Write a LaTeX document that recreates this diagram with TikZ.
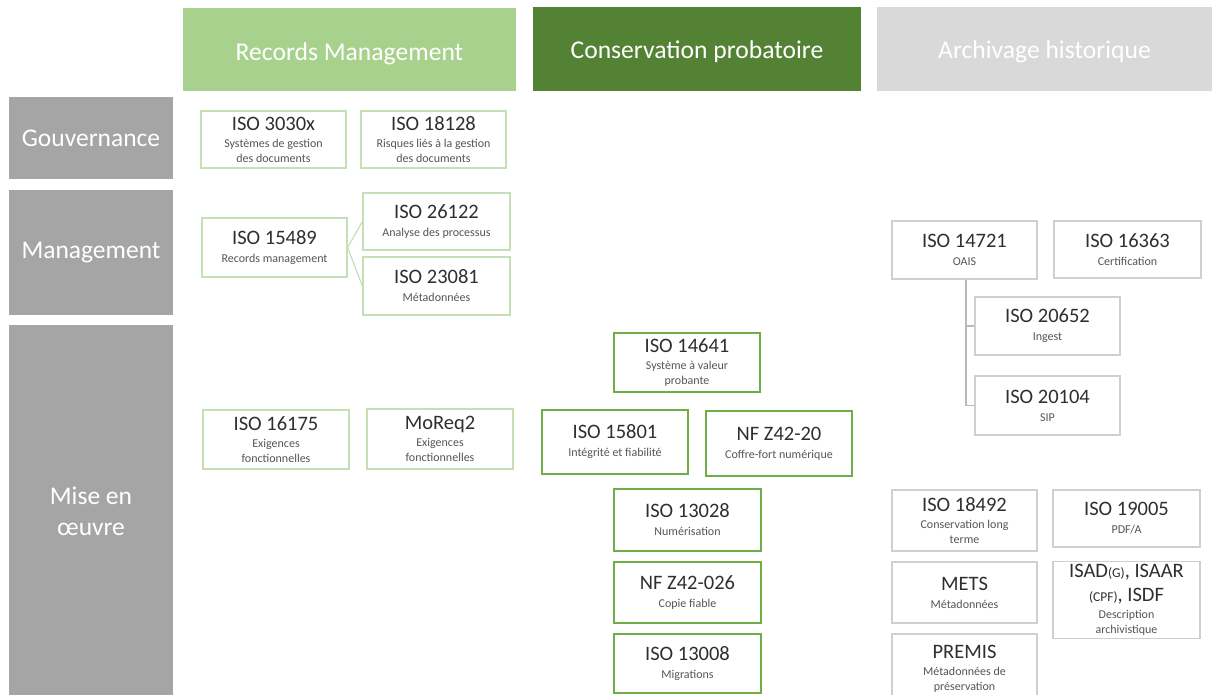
\documentclass[tikz,border=0pt]{standalone}
\usepackage{fontspec}
\setmainfont{Carlito}
\definecolor{rmgreen}{HTML}{A9D18E}
\definecolor{rmline}{HTML}{C5E0B4}
\definecolor{cpgreen}{HTML}{548235}
\definecolor{cpline}{HTML}{70AD47}
\definecolor{ahgray}{HTML}{D9D9D9}
\definecolor{ahline}{HTML}{D0CECE}
\definecolor{rowgray}{HTML}{A5A5A5}
\definecolor{titlecol}{HTML}{2F2F2F}
\definecolor{subcol}{HTML}{555555}
\newcommand\bxtitle[1]{{\fontsize{20.5}{22}\selectfont\color{titlecol}#1}}
\tikzset{
  hdr/.style={rectangle, inner sep=0pt, text=white, font=\fontsize{25.6}{28}\selectfont},
  hdrtext/.style={inner sep=0pt, text=white, font=\fontsize{25.6}{28}\selectfont},
  rowlbl/.style={rectangle, inner sep=0pt, fill=rowgray, text=white, align=center, font=\fontsize{25.5}{31}\selectfont},
  bx/.style={rectangle, inner sep=0pt, fill=white, align=center, text=subcol, font=\fontsize{12}{15}\selectfont},
  rmbox/.style={bx, draw=rmline, line width=1.2pt},
  cpbox/.style={bx, draw=cpline, line width=1.8pt},
  ahbox/.style={bx, draw=ahline, line width=1.2pt},
  rmlink/.style={draw=rmline, line width=1.2pt},
  ahlink/.style={draw=ahline!90!black, line width=1.2pt},
}
\begin{document}
\begin{tikzpicture}[x=1pt,y=-1pt]
\useasboundingbox (0,0) rectangle (1213,695);
\clip (0,0) rectangle (1213,695);
% headers
\node[hdr, fill=rmgreen, minimum width=333pt, minimum height=83pt] (hRM) at (349.5,49.5) {};
\node[hdr, fill=cpgreen, minimum width=328pt, minimum height=84pt] (hCP) at (697,49) {};
\node[hdr, fill=ahgray, minimum width=335pt, minimum height=84pt] (hAH) at (1044.5,49) {};
\node[hdrtext, yshift=-4pt] (tRM) at (hRM) {Records Management};
\node[hdrtext, yshift=-3pt] (tCP) at (hCP) {Conservation probatoire};
\node[hdrtext, yshift=-3pt] (tAH) at (hAH) {Archivage historique};
% rows
\node[rowlbl, minimum width=164pt, minimum height=82pt] (rG) at (91,138) {Gouvernance};
\node[rowlbl, minimum width=164pt, minimum height=125pt] (rM) at (91,252.5) {Management};
\node[rowlbl, minimum width=164pt, minimum height=372pt] (rE) at (91,511) {Mise en\\œuvre};
% Records management boxes
\node[rmbox, minimum width=145pt, minimum height=57pt] (iso3030) at (273.5,139.5) {\bxtitle{ISO 3030x}\\[2pt]Systèmes de gestion\\des documents};
\node[rmbox, minimum width=145pt, minimum height=57pt] (iso18128) at (433.5,139.5) {\bxtitle{ISO 18128}\\[2pt]Risques liés à la gestion\\des documents};
\node[rmbox, minimum width=145pt, minimum height=59pt] (iso15489) at (274.5,247.5) {\bxtitle{ISO 15489}\\[3pt]Records management};
\node[rmbox, minimum width=147pt, minimum height=57pt] (iso26122) at (436.5,221.5) {\bxtitle{ISO 26122}\\[3pt]Analyse des processus};
\node[rmbox, minimum width=147pt, minimum height=58pt] (iso23081) at (436.5,286) {\bxtitle{ISO 23081}\\[3pt]Métadonnées};
\node[rmbox, minimum width=146pt, minimum height=59pt] (iso16175) at (276,439.5) {\bxtitle{ISO 16175}\\[2pt]Exigences\\fonctionnelles};
\node[rmbox, minimum width=146pt, minimum height=60pt] (moreq) at (440,439) {\bxtitle{MoReq2}\\[2pt]Exigences\\fonctionnelles};
\draw[rmlink] (iso15489.east) -- (iso26122.west);
\draw[rmlink] (iso15489.east) -- (iso23081.west);
% Conservation probatoire boxes
\node[cpbox, minimum width=146pt, minimum height=59pt] (iso14641) at (687,362.5) {\bxtitle{ISO 14641}\\[2pt]Système à valeur\\probante};
\node[cpbox, minimum width=146pt, minimum height=64pt] (iso15801) at (615,442) {\bxtitle{ISO 15801}\\[3pt]Intégrité et fiabilité};
\node[cpbox, minimum width=146pt, minimum height=65pt] (nfz4220) at (779,443.5) {\bxtitle{NF Z42-20}\\[3pt]Coffre-fort numérique};
\node[cpbox, minimum width=147pt, minimum height=62pt] (iso13028) at (687.5,520) {\bxtitle{ISO 13028}\\[3pt]Numérisation};
\node[cpbox, minimum width=147pt, minimum height=61pt] (nfz42026) at (687.5,592.5) {\bxtitle{NF Z42-026}\\[3pt]Copie fiable};
\node[cpbox, minimum width=147pt, minimum height=59pt] (iso13008) at (687.5,663.5) {\bxtitle{ISO 13008}\\[3pt]Migrations};
% Archivage historique boxes
\node[ahbox, minimum width=145pt, minimum height=58pt] (iso14721) at (964.5,250) {\bxtitle{ISO 14721}\\[3pt]OAIS};
\node[ahbox, minimum width=147pt, minimum height=57pt] (iso16363) at (1127.5,249.5) {\bxtitle{ISO 16363}\\[3pt]Certification};
\node[ahbox, minimum width=145pt, minimum height=58pt] (iso20652) at (1047.5,326) {\bxtitle{ISO 20652}\\[3pt]Ingest};
\node[ahbox, minimum width=145pt, minimum height=59pt] (iso20104) at (1047.5,405.5) {\bxtitle{ISO 20104}\\[3pt]SIP};
\node[ahbox, minimum width=145pt, minimum height=61pt] (iso18492) at (964.5,520.5) {\bxtitle{ISO 18492}\\[2pt]Conservation long\\terme};
\node[ahbox, minimum width=147pt, minimum height=57pt] (iso19005) at (1126.5,518.5) {\bxtitle{ISO 19005}\\[3pt]PDF/A};
\node[ahbox, minimum width=145pt, minimum height=61pt] (mets) at (964.5,592.5) {\bxtitle{METS}\\[3pt]Métadonnées};
\node[ahbox, minimum width=147pt, minimum height=77pt] (isad) at (1126.5,600) {\bxtitle{ISAD{\fontsize{13.5}{14}\selectfont(G)}, ISAAR}\\[7pt]\bxtitle{{\fontsize{13.5}{14}\selectfont(CPF)}, ISDF}\\[2pt]Description\\archivistique};
\node[ahbox, minimum width=145pt, minimum height=70pt] (premis) at (964.5,669) {\bxtitle{PREMIS}\\[2pt]Métadonnées de\\préservation};
\coordinate (ahv) at ([xshift=1.5pt]iso14721.south);
\draw[ahlink] (ahv) |- (iso20652.west);
\draw[ahlink] (ahv) |- (iso20104.west);
\end{tikzpicture}
\end{document}
